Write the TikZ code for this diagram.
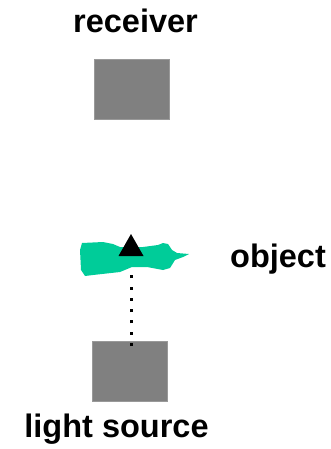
\documentclass[tikz,border=0pt]{standalone}
\usepackage{fontspec}
\setmainfont{Liberation Sans}
\definecolor{boxgray}{RGB}{128,128,128}
\definecolor{blobgreen}{RGB}{0,204,153}
\tikzset{
  label/.style={font=\fontsize{32.5}{32.5}\selectfont\bfseries, inner sep=0pt, anchor=base},
  device/.style={fill=boxgray, draw=boxgray!80!white, line width=0.6pt, minimum width=75pt, minimum height=60pt, inner sep=0pt},
  dots/.style={line width=3pt, dash pattern=on 3pt off 8.3pt},
}
\begin{document}
\begin{tikzpicture}[x=1pt,y=-1pt]
\useasboundingbox (0,0) rectangle (330,449);
% receiver
\node[label] (rlabel) at (135.5,33) {receiver};
\node[device] (receiver) at (131.5,89) {};
% light source
\node[device] (source) at (129.5,371) {};
\node[label] (slabel) at (116.5,437) {light source};
% object blob
\fill[blobgreen] (82,243) -- (103,242) -- (113,244) -- (120,247) -- (143,247) -- (158,245)
  -- (163,243) -- (168,244) -- (172,250) -- (177,253) -- (189,254) -- (183,257)
  -- (175,260) -- (170,268) -- (163,270) -- (147,267) -- (132,267) -- (120,272)
  -- (93,275) -- (85,276) -- (81,270) -- (80,250) -- cycle;
\node[label] (olabel) at (278,267) {object};
% light path
\coordinate (tip) at (131,234);
\coordinate (dotend) at (131,267);
\coordinate (dotstart) at (131,346);
\draw[dots] (dotstart) -- (dotend);
\fill (tip) -- ++(-12.5,22) -- ++(25,0) -- cycle;
\end{tikzpicture}
\end{document}
